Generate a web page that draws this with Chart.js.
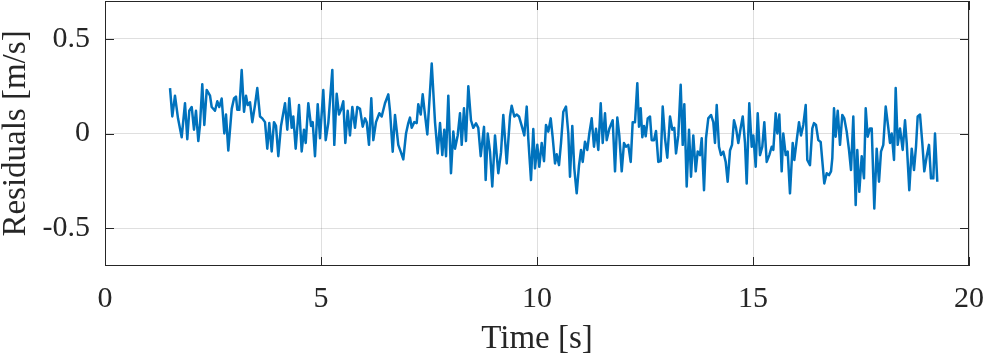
<!DOCTYPE html>
<html><head><meta charset="utf-8">
<script src="https://cdn.jsdelivr.net/npm/chart.js@4/dist/chart.umd.min.js"></script>
<style>html,body{margin:0;padding:0;background:#fff}canvas{display:block}</style>
</head><body>
<canvas id="c" width="987" height="360"></canvas>
<script>
const timeS = [
1.505,1.558,1.620,1.690,1.775,1.852,1.905,1.951,2.007,2.060,2.106,2.160,2.199,2.252,2.299,2.354,2.431,2.470,2.546,2.600,
2.646,2.701,2.762,2.801,2.854,2.933,2.986,3.032,3.063,3.109,3.164,3.218,3.264,3.303,3.356,3.410,3.472,3.525,3.588,3.641,
3.704,3.757,3.803,3.859,3.912,3.958,4.012,4.074,4.167,4.220,4.266,4.322,4.359,4.414,4.491,4.553,4.606,4.646,4.706,4.769,
4.808,4.861,4.924,4.977,5.053,5.109,5.169,5.262,5.308,5.363,5.417,5.463,5.516,5.563,5.618,5.671,5.725,5.787,5.840,5.903,
5.965,6.019,6.058,6.111,6.164,6.211,6.273,6.350,6.405,6.481,6.558,6.597,6.660,6.713,6.789,6.845,6.905,6.968,7.021,7.060,
7.100,7.160,7.215,7.252,7.308,7.354,7.407,7.461,7.563,7.639,7.701,7.755,7.808,7.854,7.894,7.947,8.009,8.063,8.102,8.164,
8.218,8.257,8.310,8.356,8.410,8.472,8.525,8.588,8.641,8.697,8.773,8.812,8.859,8.912,8.965,9.028,9.104,9.167,9.220,9.299,
9.375,9.414,9.475,9.530,9.583,9.660,9.706,9.762,9.799,9.861,9.914,9.954,10.007,10.053,10.109,10.162,10.208,10.262,10.317,10.363,
10.417,10.456,10.509,10.556,10.609,10.671,10.725,10.764,10.817,10.863,10.919,10.972,11.019,11.058,11.111,11.164,11.211,11.266,11.319,11.366,
11.419,11.475,11.521,11.574,11.613,11.674,11.752,11.806,11.859,11.905,11.961,12.014,12.060,12.113,12.169,12.215,12.269,12.322,12.361,12.400,
12.438,12.477,12.516,12.563,12.616,12.655,12.708,12.755,12.808,12.863,12.910,12.963,13.016,13.079,13.132,13.178,13.218,13.271,13.326,13.373,
13.410,13.465,13.519,13.565,13.618,13.674,13.720,13.773,13.813,13.866,13.912,13.965,14.028,14.081,14.120,14.160,14.213,14.259,14.313,14.368,
14.414,14.468,14.514,14.560,14.606,14.660,14.715,14.762,14.815,14.854,14.914,14.970,15.007,15.063,15.109,15.162,15.215,15.262,15.317,15.377,
15.433,15.470,15.525,15.563,15.609,15.664,15.701,15.757,15.803,15.856,15.919,15.956,16.012,16.065,16.111,16.164,16.220,16.257,16.319,16.373,
16.412,16.458,16.512,16.567,16.613,16.650,16.706,16.759,16.806,16.836,16.875,16.914,16.961,17.014,17.067,17.113,17.169,17.222,17.269,17.322,
17.377,17.414,17.461,17.516,17.569,17.609,17.655,17.708,17.748,17.808,17.863,17.917,17.963,18.016,18.072,18.132,18.171,18.211,18.264,18.303,
18.350,18.403,18.465,18.519,18.558,18.618,18.674,18.727,18.773,18.812,18.866,18.919,18.965,19.021,19.074,19.120,19.174,19.213,19.266
];
const residuals = [
0.24,0.09,0.20,0.08,-0.02,0.16,-0.03,0.12,0.14,0.02,0.12,-0.04,0.045,0.26,0.045,0.23,0.20,0.14,0.12,0.17,
0.14,0.185,0.0,0.10,-0.09,0.13,0.185,0.195,0.125,0.125,0.335,0.115,0.2,0.15,0.165,0.06,0.15,0.24,0.09,0.08,
0.06,-0.08,0.055,-0.095,0.06,0.04,-0.12,0.04,0.16,0.02,0.186,0.03,0.09,-0.08,0.15,-0.095,0.02,-0.05,0.16,0.04,
0.06,-0.12,0.155,-0.025,0.23,-0.035,0.055,0.336,-0.06,0.21,0.1,0.125,0.17,-0.05,0.12,-0.01,0.14,0.03,0.14,0.13,
0.036,0.08,0.06,-0.06,0.186,-0.035,0.06,0.107,0.09,0.16,0.207,0.12,-0.096,0.098,-0.06,-0.096,-0.137,0.0,0.055,0.084,
0.03,0.06,0.055,0.155,0.1,0.207,0.1,-0.005,0.37,0.06,-0.105,0.055,-0.114,0.02,-0.12,0.2,-0.21,0.01,-0.08,-0.01,
0.107,-0.06,0.133,-0.04,0.25,0.07,0.03,0.054,0.03,-0.12,0.035,-0.245,0.0,-0.096,-0.28,-0.01,-0.21,-0.1,0.098,-0.158,
0.09,0.147,0.09,0.1,0.09,0.03,-0.01,0.142,-0.03,-0.246,0.024,-0.184,-0.06,-0.176,-0.05,-0.146,0.045,0.01,0.08,-0.02,
-0.158,-0.11,-0.167,-0.05,0.115,0.142,0.0,-0.228,0.04,-0.184,-0.316,-0.17,-0.087,-0.15,-0.043,-0.087,0.0,0.08,-0.07,0.025,
-0.087,0.16,-0.05,0.107,-0.035,0.025,0.07,-0.2,0.084,-0.01,-0.2,-0.05,-0.07,-0.06,-0.15,0.06,0.06,0.266,0.036,0.133,
-0.02,0.04,-0.015,0.08,0.09,-0.035,-0.035,0.013,-0.15,-0.146,0.142,-0.025,-0.128,0.09,0.02,0.03,-0.105,-0.01,0.257,-0.06,
0.155,-0.28,0.02,-0.228,-0.01,-0.2,-0.095,-0.114,-0.025,-0.3,-0.025,0.08,0.098,0.06,-0.05,0.15,-0.07,-0.114,-0.096,-0.15,
-0.255,-0.09,-0.06,0.07,0.03,-0.05,0.03,0.09,-0.05,-0.264,0.16,-0.07,-0.01,-0.176,0.107,-0.114,-0.07,0.06,-0.15,-0.114,
-0.07,-0.087,0.107,0.0,0.1,-0.2,0.0,-0.114,-0.096,-0.316,-0.05,-0.14,-0.035,0.06,-0.01,0.045,0.15,-0.14,-0.167,0.027,
0.055,0.045,-0.035,-0.045,-0.167,-0.264,-0.21,-0.22,-0.2,-0.13,0.133,-0.017,0.12,-0.06,0.098,0.08,0.01,-0.087,-0.193,0.09,
-0.378,-0.087,-0.308,-0.12,-0.237,0.133,-0.017,0.027,0.027,-0.396,-0.08,-0.255,-0.096,-0.06,0.142,0.03,-0.05,0.0,-0.14,0.24,
-0.06,0.027,-0.087,0.07,-0.05,-0.3,-0.08,-0.193,-0.07,0.09,0.1,-0.05,-0.2,-0.12,-0.06,-0.237,-0.237,0.0,-0.255
];
const xTickValues = [0, 5, 10, 15, 20];
const xTickLabels = ['0', '5', '10', '15', '20'];
const yTickValues = [-0.5, 0, 0.5];
const yTickLabels = ['-0.5', '0', '0.5'];
const xTitle = 'Time [s]';
const yTitle = 'Residuals [m/s]';

const FONT = "'Liberation Serif', 'Times New Roman', serif";
const TXT = '#262626';

const framePlugin = {
  id: 'frame',
  afterDatasetsDraw(chart) {
    const {ctx, chartArea: a, scales: {x, y}} = chart;
    const L = 9;
    ctx.save();
    ctx.strokeStyle = TXT;
    ctx.lineWidth = 1;
    ctx.beginPath();
    xTickValues.forEach(v => {
      const p = Math.round(x.getPixelForValue(v)) + 0.5;
      ctx.moveTo(p, a.bottom); ctx.lineTo(p, a.bottom - L);
      ctx.moveTo(p, a.top); ctx.lineTo(p, a.top + L);
    });
    yTickValues.forEach(v => {
      const p = Math.round(y.getPixelForValue(v)) + 0.5;
      ctx.moveTo(a.left, p); ctx.lineTo(a.left + L, p);
      ctx.moveTo(a.right, p); ctx.lineTo(a.right - L, p);
    });
    ctx.stroke();
    ctx.strokeRect(Math.round(a.left) + 0.5, Math.round(a.top) + 0.5,
                   Math.round(a.right - a.left) - 1, Math.round(a.bottom - a.top) - 1);
    ctx.restore();
  }
};

function zeroPad(s) {
  s.paddingLeft = 0; s.paddingRight = 0; s.paddingTop = 0; s.paddingBottom = 0;
}

new Chart(document.getElementById('c'), {
  type: 'line',
  data: {
    datasets: [{
      data: timeS.map((t, i) => ({x: t, y: residuals[i]})),
      borderColor: '#0072BD',
      borderWidth: 2.5,
      pointRadius: 0,
      tension: 0,
      fill: false,
      borderJoinStyle: 'round'
    }]
  },
  options: {
    responsive: false,
    animation: false,
    devicePixelRatio: 1,
    layout: {padding: {left: 0, right: 18, top: 1, bottom: 0}},
    plugins: {legend: {display: false}, tooltip: {enabled: false}},
    scales: {
      x: {
        type: 'linear', min: 0, max: 20,
        afterBuildTicks: s => { s.ticks = xTickValues.map(v => ({value: v})); },
        afterFit: s => { s.height = 94; zeroPad(s); },
        grid: {color: 'rgba(38,38,38,0.15)', drawTicks: false, lineWidth: 1},
        border: {display: false},
        ticks: {
          padding: 15, maxRotation: 0, autoSkip: false,
          color: TXT, font: {family: FONT, size: 30},
          callback: (v, i) => xTickLabels[i]
        },
        title: {display: true, text: xTitle, color: TXT,
                font: {family: FONT, size: 33, lineHeight: 1}, padding: {top: 0, bottom: 4}}
      },
      y: {
        type: 'linear', min: -0.7, max: 0.7,
        afterBuildTicks: s => { s.ticks = yTickValues.map(v => ({value: v})); },
        afterFit: s => { s.width = 105; zeroPad(s); },
        grid: {color: 'rgba(38,38,38,0.15)', drawTicks: false, lineWidth: 1},
        border: {display: false},
        ticks: {
          padding: 15, autoSkip: false,
          color: TXT, font: {family: FONT, size: 30},
          callback: (v, i) => yTickLabels[i]
        },
        title: {display: true, text: yTitle, color: TXT,
                font: {family: FONT, size: 33, lineHeight: 1}, padding: {top: 0, bottom: 0}}
      }
    }
  },
  plugins: [framePlugin]
});
</script>
</body></html>
